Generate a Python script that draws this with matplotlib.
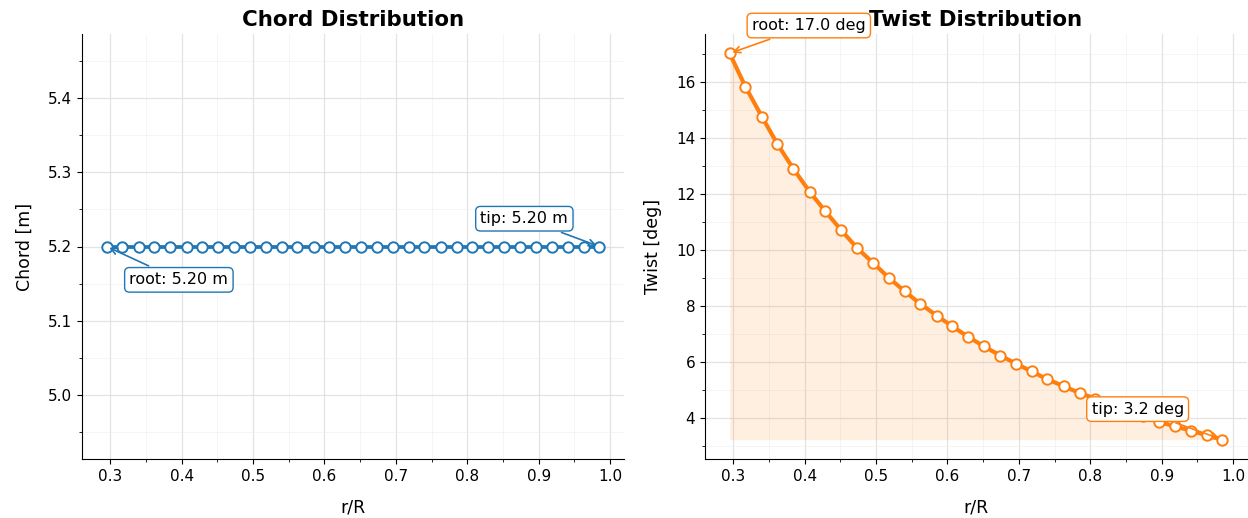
import matplotlib
matplotlib.use("Agg")
import matplotlib.pyplot as plt
from matplotlib.ticker import AutoMinorLocator

# r/R stations (32 points)
r_R = [0.295, 0.317, 0.340, 0.362, 0.384, 0.407, 0.429, 0.451,
       0.473, 0.496, 0.518, 0.540, 0.562, 0.585, 0.607, 0.629,
       0.651, 0.674, 0.696, 0.718, 0.740, 0.763, 0.785, 0.807,
       0.829, 0.852, 0.874, 0.896, 0.918, 0.941, 0.963, 0.985]

chord = [5.2] * 32

twist = [17.03, 15.84, 14.77, 13.78, 12.91, 12.08, 11.38, 10.71,
         10.08, 9.53, 9.00, 8.52, 8.07, 7.65, 7.26, 6.89,
         6.55, 6.22, 5.93, 5.65, 5.37, 5.12, 4.88, 4.68,
         4.47, 4.26, 4.05, 3.85, 3.69, 3.53, 3.37, 3.21]

blue = "#1f77b4"
orange = "#ff7f0e"

fig = plt.figure(figsize=(12.48, 5.18), dpi=100)
ax1 = fig.add_axes([82 / 1248, 59 / 518, 542 / 1248, 425 / 518])
ax2 = fig.add_axes([705 / 1248, 59 / 518, 542 / 1248, 425 / 518])


def style(ax):
    ax.spines["top"].set_visible(False)
    ax.spines["right"].set_visible(False)
    ax.xaxis.set_minor_locator(AutoMinorLocator(2))
    ax.yaxis.set_minor_locator(AutoMinorLocator(2))
    ax.grid(True, which="major", color="#dddddd", linewidth=0.9, alpha=0.8)
    ax.grid(True, which="minor", color="#eeeeee", linewidth=0.6, alpha=0.7)
    ax.set_axisbelow(True)
    ax.tick_params(labelsize=11)
    ax.set_xlabel("r/R", fontsize=12.5, labelpad=11)


# Chord
ax1.plot(r_R, chord, color=blue, lw=2.7, marker="o", ms=7.5,
         mfc="white", mec=blue, mew=1.4)
ax1.set_title("Chord Distribution", fontsize=15.4, fontweight="bold", pad=6)
ax1.set_ylabel("Chord [m]", fontsize=12.5, labelpad=10)
style(ax1)
ax1.annotate(f"root: {chord[0]:.2f} m", xy=(r_R[0], chord[0]),
             xytext=(52, -24), textcoords="offset points", ha="center", va="center",
             fontsize=11.5,
             bbox=dict(boxstyle="round,pad=0.3", fc="white", ec=blue, lw=1),
             arrowprops=dict(arrowstyle="->", color=blue, lw=1.2))
ax1.annotate(f"tip: {chord[-1]:.2f} m", xy=(r_R[-1], chord[-1]),
             xytext=(-54, 20), textcoords="offset points", ha="center", va="center",
             fontsize=11.5,
             bbox=dict(boxstyle="round,pad=0.3", fc="white", ec=blue, lw=1),
             arrowprops=dict(arrowstyle="->", color=blue, lw=1.2))

# Twist
ax2.fill_between(r_R, min(twist), twist, color=orange, alpha=0.12, lw=0)
ax2.plot(r_R, twist, color=orange, lw=3, marker="o", ms=7.5,
         mfc="white", mec=orange, mew=1.4)
ax2.set_title("Twist Distribution", fontsize=15.4, fontweight="bold", pad=6)
ax2.set_ylabel("Twist [deg]", fontsize=12.5, labelpad=10)
style(ax2)
ax2.annotate(f"root: {twist[0]:.1f} deg", xy=(r_R[0], twist[0]),
             xytext=(57, 20), textcoords="offset points", ha="center", va="center",
             fontsize=11.5, zorder=10,
             bbox=dict(boxstyle="round,pad=0.3", fc="white", ec=orange, lw=1),
             arrowprops=dict(arrowstyle="->", color=orange, lw=1.2))
ax2.annotate(f"tip: {twist[-1]:.1f} deg", xy=(r_R[-1], twist[-1]),
             xytext=(-61, 22), textcoords="offset points", ha="center", va="center",
             fontsize=11.5, zorder=10,
             bbox=dict(boxstyle="round,pad=0.3", fc="white", ec=orange, lw=1),
             arrowprops=dict(arrowstyle="->", color=orange, lw=1.2))

fig.savefig("out.png", dpi=100)
